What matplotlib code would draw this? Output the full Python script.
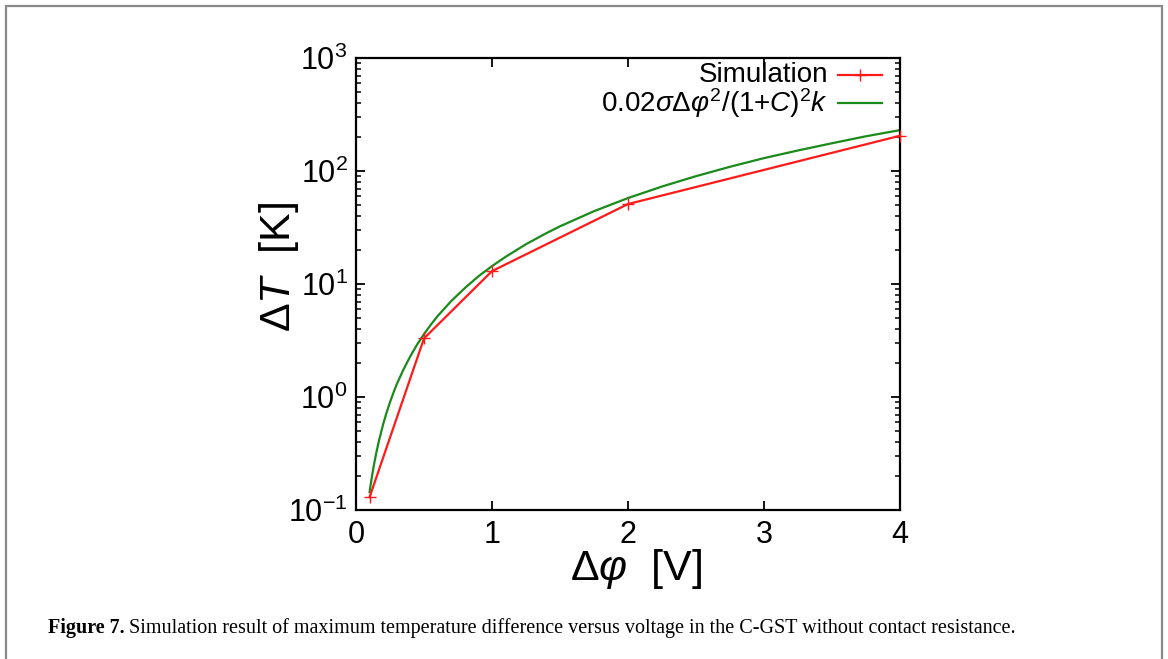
import matplotlib
matplotlib.use('Agg')
import matplotlib.pyplot as plt
from matplotlib.lines import Line2D
from matplotlib.patches import Rectangle
from matplotlib.ticker import LogLocator, LogFormatterMathtext, NullFormatter, FixedLocator

# ---- data ----
sim_x = [0.1, 0.5, 1.0, 2.0, 4.0]
sim_y = [0.13, 3.3, 13.0, 51.0, 205.0]

fit_x = [0.1, 0.11, 0.12, 0.13, 0.14, 0.15, 0.17, 0.2, 0.22, 0.25, 0.28, 0.3,
         0.35, 0.4, 0.45, 0.5, 0.55, 0.6, 0.7, 0.8, 0.9, 1.0, 1.1, 1.25,
         1.4, 1.5, 1.75, 2.0, 2.25, 2.5, 2.75, 3.0, 3.25, 3.5, 3.75, 4.0]
fit_y = [0.144, 0.174, 0.207, 0.243, 0.282, 0.324, 0.416, 0.576, 0.697, 0.90,
         1.13, 1.30, 1.76, 2.30, 2.92, 3.6, 4.36, 5.2, 7.06, 9.2, 11.7, 14.4,
         17.4, 22.5, 28.2, 32.4, 44.1, 57.6, 72.9, 90.0, 109.0, 130.0, 152.0,
         176.0, 203.0, 230.0]

x_ticks = [0, 1, 2, 3, 4]
legend_labels = ['Simulation',
                 r'$0.02\mathit{σ}Δ\mathit{φ}^{2}/(1{+}\mathit{C})^{2}\mathit{k}$']
x_label = r'$Δ\mathit{φ}$  [V]'
y_label = r'$Δ\mathit{T}$  [K]'
caption_bold = 'Figure 7.'
caption_text = ('Simulation result of maximum temperature difference versus voltage '
                'in the C-GST without contact resistance.')

# ---- style ----
plt.rcParams['font.family'] = ['Liberation Sans', 'DejaVu Sans']
plt.rcParams['mathtext.fontset'] = 'custom'
plt.rcParams['mathtext.rm'] = 'Liberation Sans'
plt.rcParams['mathtext.it'] = 'Liberation Sans:italic'
plt.rcParams['mathtext.bf'] = 'Liberation Sans:bold'
plt.rcParams['mathtext.default'] = 'regular'
plt.rcParams['axes.unicode_minus'] = False

RED = '#ff1a1a'
GREEN = '#1a8a1a'

W, H = 1168, 659
fig = plt.figure(figsize=(W / 100, H / 100), dpi=100)
fig.patch.set_facecolor('white')

ax_l, ax_r, ax_t, ax_b = 356, 900, 58, 510
ax = fig.add_axes([ax_l / W, 1 - ax_b / H, (ax_r - ax_l) / W, (ax_b - ax_t) / H])

ax.plot(fit_x, fit_y, color=GREEN, lw=1.6, zorder=2)
ax.plot(sim_x, sim_y, color=RED, lw=1.6, marker='+', ms=9, mew=1.0, zorder=3,
        clip_on=False)

ax.set_yscale('log')
ax.set_xlim(0, 4)
ax.set_ylim(0.1, 1000)
ax.xaxis.set_major_locator(FixedLocator(x_ticks))
ax.yaxis.set_major_locator(LogLocator(base=10, numticks=10))
ax.yaxis.set_major_formatter(LogFormatterMathtext())
ax.yaxis.set_minor_locator(LogLocator(base=10, subs=range(2, 10), numticks=20))
ax.yaxis.set_minor_formatter(NullFormatter())

for s in ax.spines.values():
    s.set_linewidth(1.6)
ax.tick_params(which='major', direction='in', top=True, right=True,
               length=6.5, width=1.3, labelsize=22, pad=6)
ax.tick_params(axis='x', which='major', pad=7)
ax.tick_params(which='minor', direction='in', top=False, right=True,
               length=3.5, width=1.1)

ax.set_xlabel(x_label, fontsize=31)
ax.set_ylabel(y_label, fontsize=31)
ax.xaxis.set_label_coords(0.515, -0.082)
ax.yaxis.label.set_va('center')
ax.yaxis.set_label_coords(-0.142, 0.537)

# ---- legend (gnuplot style: right-aligned text, sample to the right) ----
def axfx(px):
    return (px - ax_l) / (ax_r - ax_l)

def axfy(py):
    return (ax_b - py) / (ax_b - ax_t)

rows = [(75, RED, '+'), (103, GREEN, None)]
for (py, col, mk), lab in zip(rows, legend_labels):
    ax.text(axfx(828), axfy(py), lab, transform=ax.transAxes, ha='right',
            va='center', fontsize=20)
    ax.add_line(Line2D([axfx(838), axfx(882)], [axfy(py), axfy(py)],
                       transform=ax.transAxes, color=col, lw=1.6))
    if mk:
        ax.add_line(Line2D([axfx(860)], [axfy(py)], transform=ax.transAxes,
                           color=col, marker=mk, ms=9, mew=1.0, ls='none'))

# ---- border frame ----
fig.add_artist(Rectangle((6 / W, -0.2), (1162 - 6) / W, 1.2 - 6 / H,
                         transform=fig.transFigure, fill=False,
                         edgecolor='#8a8a8a', lw=1.6))

# ---- caption ----
fig.canvas.draw()
renderer = fig.canvas.get_renderer()
target_left, target_right, base_y = 48, 1015, 633
fs = 13.0
for _ in range(3):
    t1 = fig.text(target_left / W, 1 - base_y / H, caption_bold, fontsize=fs,
                  family='Liberation Serif', weight='bold', va='baseline')
    e1 = t1.get_window_extent(renderer)
    t2 = fig.text((e1.x1 + 4) / W, 1 - base_y / H, caption_text, fontsize=fs,
                  family='Liberation Serif', va='baseline')
    e2 = t2.get_window_extent(renderer)
    total = e2.x1 - target_left
    want = target_right - target_left
    if abs(total - want) < 2:
        break
    t1.remove()
    t2.remove()
    fs = fs * want / total

fig.savefig('out.png', dpi=100)
